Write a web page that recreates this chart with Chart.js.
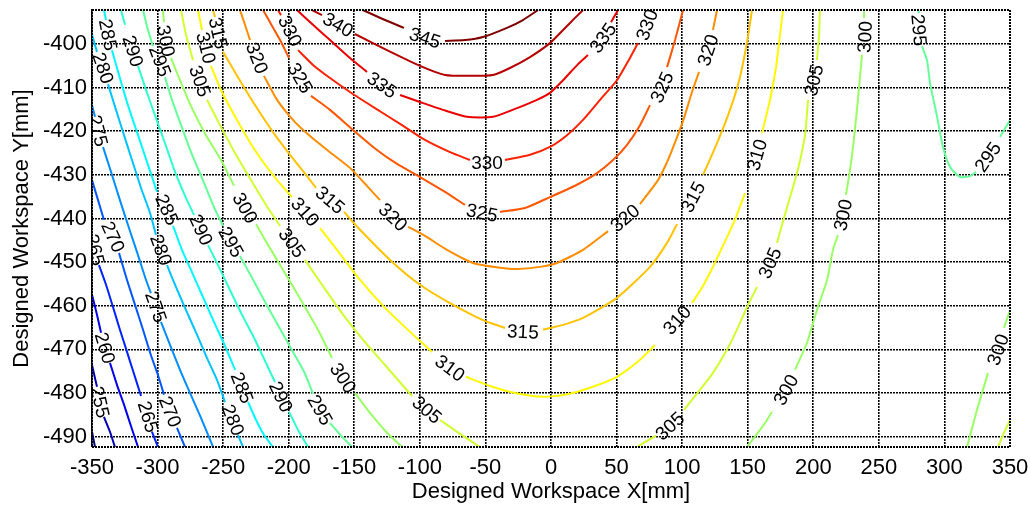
<!DOCTYPE html>
<html>
<head>
<meta charset="utf-8">
<title>Designed Workspace contour</title>
<script src="https://cdn.jsdelivr.net/npm/chart.js@4.4.0/dist/chart.umd.min.js"></script>
<style>
  html, body { margin: 0; padding: 0; background: #fff; }
  #wrap { width: 1030px; height: 509px; }
</style>
</head>
<body>
<div id="wrap"><canvas id="myChart" width="1030" height="509"></canvas></div>
<script>
var xTicks = [-350, -300, -250, -200, -150, -100, -50, 0, 50, 100, 150, 200, 250, 300, 350];
var yTicks = [-490, -480, -470, -460, -450, -440, -430, -420, -410, -400];
var xRange = [-350, 350];
var yRange = [-492.4, -392.2];

// contour lines [x, y] in mm, null = gap where the level label sits
var c250 = [[-350, -488.9], [-347.7, -492.4]];
var c255 = [[-350, -473.6], [-346.2, -478.6], null, [-340.9, -485.5], [-336.3, -488.9], [-332.5, -492.4]];
var c260 = [[-350, -457.5], [-346.2, -462.1], [-343.1, -466.2], null, [-336.3, -473.1], [-330.9, -478.2], [-325.6, -482.7], [-320.3, -487.6], [-314.9, -492.4]];
var c265 = [[-350, -444.2], null, [-344.7, -450.7], [-339.3, -455.2], [-334.0, -460.3], [-328.7, -465.5], [-323.3, -470.6], [-318.0, -475.6], [-312.6, -480.7], null, [-304.3, -488.9], [-299.7, -492.4]];
var c270 = [[-350, -431.2], [-345.4, -435.8], [-340.9, -440.3], null, [-329.4, -447.9], [-323.3, -454.1], [-317.2, -459.8], [-311.1, -465.5], [-305.1, -471.3], [-299.7, -475.9], [-295.1, -480.4], null, [-285.2, -488.0], [-279.1, -492.4]];
var c275 = [[-350, -414.0], [-347.7, -416.7], null, [-341.6, -423.6], [-335.5, -429.3], [-328.7, -435.8], [-321.8, -442.2], [-314.9, -448.4], [-308.8, -454.1], [-305.1, -457.1], null, [-297.4, -463.7], [-290.5, -469.0], [-282.9, -474.7], [-275.3, -480.0], [-266.9, -485.7], [-257.7, -492.4]];
var c280 = [[-350, -397.9], [-346.2, -401.8], null, [-337.8, -409.2], [-331.7, -415.1], [-325.6, -420.9], [-319.5, -426.6], [-312.6, -433.0], [-305.8, -438.7], [-301.2, -443.8], null, [-292.8, -450.7], [-286.0, -455.7], [-278.3, -461.0], [-269.9, -466.7], [-262.3, -472.0], [-254.7, -477.0], [-248.6, -482.1], null, [-238.7, -489.6], [-234.9, -492.4]];
var c285 = [[-340.9, -392.2], [-339.3, -394.5], null, [-334.8, -401.4], [-329.4, -407.1], [-322.6, -414.0], [-314.9, -420.9], [-307.3, -427.7], [-300.4, -433.9], null, [-288.2, -441.7], [-281.4, -447.2], [-273.8, -452.3], [-265.4, -458.0], [-257.0, -463.7], [-248.6, -469.2], [-240.9, -474.7], null, [-231.0, -482.1], [-224.9, -486.2], [-218.9, -489.6], [-212.0, -492.4]];
var c290 = [[-327.9, -392.2], [-324.8, -395.6], null, [-314.9, -405.0], [-308.8, -410.5], [-302.0, -416.3], [-294.4, -422.7], [-286.7, -429.3], [-277.6, -435.8], [-272.2, -439.2], null, [-261.5, -446.1], [-253.9, -450.7], [-244.8, -456.4], [-235.6, -462.1], [-225.7, -467.8], [-216.6, -473.6], [-210.5, -477.5], null, [-199.8, -484.3], [-192.9, -488.5], [-185.3, -492.4]];
var c295 = [[-311.1, -392.2], [-307.3, -396.8], [-303.5, -400.5], null, [-294.4, -407.6], [-289.0, -412.8], [-282.1, -418.6], [-274.5, -424.8], [-265.4, -431.2], [-257.0, -437.4], [-250.1, -441.7], null, [-237.2, -448.6], [-228.0, -453.6], [-218.1, -459.1], [-207.4, -464.9], [-196.7, -470.6], [-187.6, -475.6], [-181.5, -480.2], null, [-168.5, -486.9], [-160.1, -489.8], [-151.7, -492.4]];
var c300 = [[-295.9, -392.2], [-295.1, -395.0], null, [-289.8, -403.2], [-282.9, -408.3], [-273.8, -414.7], [-263.1, -420.9], [-251.6, -426.6], [-241.7, -432.5], null, [-224.9, -441.3], [-214.3, -446.8], [-202.1, -452.9], [-189.9, -459.1], [-177.7, -465.5], [-167.0, -472.0], null, [-149.5, -480.0], [-138.0, -484.6], [-125.8, -488.9], [-113.6, -492.4]];
var c305 = [[-282.1, -392.2], [-278.3, -397.9], [-273.0, -403.7], null, [-262.3, -412.8], [-252.4, -418.6], [-240.2, -425.4], [-228.0, -431.6], [-217.3, -436.9], [-206.6, -441.7], null, [-187.6, -449.5], [-174.6, -455.2], [-159.4, -461.7], [-143.4, -467.8], [-126.6, -473.6], [-106.0, -480.7], null, [-84.6, -486.2], [-69.4, -489.4], [-54.1, -492.4]];
var c310 = [[-269.2, -392.2], [-266.1, -396.8], null, [-259.3, -405.0], [-250.9, -411.0], [-237.2, -418.6], [-223.4, -425.4], [-208.9, -431.2], [-197.5, -435.1], null, [-176.1, -442.2], [-163.2, -447.2], [-145.6, -454.1], [-126.6, -460.5], [-107.5, -466.0], [-90.7, -470.6], null, [-64.8, -476.3], [-46.5, -478.4], [-27.5, -480.0], [-6.1, -480.9], [10.7, -480.4], [29.7, -478.8], [50.3, -476.3], [67.9, -472.4], [79.3, -469.0], null, [107.5, -459.4], [115.1, -455.9], [122.0, -452.0], [129.6, -447.2], [140.3, -440.3], [147.9, -434.2], null, [160.9, -420.4], [167.0, -412.8], [171.6, -405.3], [174.6, -397.9], [176.9, -392.2]];
var c315 = [[-257.7, -392.2], [-256.2, -393.8], null, [-250.1, -401.8], [-238.7, -407.6], [-225.7, -414.0], [-212.0, -420.2], [-199.0, -425.4], [-186.8, -430.0], [-179.2, -433.0], null, [-157.8, -438.5], [-145.6, -442.6], [-122.8, -449.5], [-99.9, -455.2], [-77.0, -459.4], [-51.9, -463.3], [-35.1, -465.1], null, [-6.1, -465.5], [9.2, -464.4], [24.4, -462.8], [50.3, -458.2], [75.5, -451.1], [88.5, -445.6], [96.1, -441.3], null, [115.9, -430.0], [126.6, -422.7], [136.5, -415.1], [144.1, -407.6], [149.5, -399.5], [153.3, -392.2]];
var c320 = [[-237.2, -392.2], [-233.3, -395.6], [-229.5, -399.1], null, [-218.9, -407.3], [-208.9, -412.8], [-195.2, -417.9], [-182.2, -421.5], [-168.5, -424.8], [-153.3, -428.4], [-139.5, -432.8], [-130.4, -435.8], null, [-109.0, -441.9], [-96.1, -444.0], [-79.3, -447.2], [-59.5, -450.2], [-38.9, -451.3], [-25.9, -451.6], [-8.4, -451.1], [4.6, -450.2], [24.4, -447.2], [43.5, -442.9], null, [67.9, -436.7], [81.6, -431.2], [89.2, -426.6], [95.3, -422.0], [101.4, -417.0], [107.5, -411.0], [112.9, -406.4], null, [123.5, -396.8], [126.6, -392.2]];
var c325 = [[-219.6, -392.2], [-214.3, -395.0], [-206.6, -399.1], [-199.8, -403.2], null, [-183.0, -411.9], [-168.5, -415.1], [-151.0, -419.7], [-132.7, -424.3], [-117.4, -427.5], [-99.9, -430.5], [-80.8, -433.9], [-65.6, -436.9], null, [-38.9, -438.5], [-19.8, -437.6], [-0.8, -435.1], [18.3, -432.5], [35.1, -429.6], [47.3, -426.6], [58.0, -423.1], [67.9, -418.6], [75.5, -414.0], null, [88.5, -405.3], [94.6, -399.1], [100.7, -392.2]];
var c330 = [[-208.2, -392.2], [-205.9, -393.4], null, [-192.9, -401.4], [-181.5, -404.8], [-168.5, -407.8], [-153.3, -411.0], [-134.2, -414.7], [-115.1, -418.3], [-96.1, -422.0], [-77.0, -424.8], [-61.8, -426.6], null, [-35.1, -426.6], [-16.0, -425.4], [-0.8, -423.6], [12.2, -420.9], [24.4, -417.4], [37.4, -412.8], [50.3, -408.3], [60.2, -403.2], [66.3, -399.8], null, [75.5, -392.2]];
var c335 = [[-193.7, -392.2], [-181.5, -395.6], [-168.5, -399.1], [-153.3, -403.2], [-140.3, -406.4], null, [-115.1, -411.7], [-99.9, -413.3], [-82.4, -415.1], [-64.1, -416.7], [-44.2, -416.7], [-25.9, -414.7], [-10.7, -412.8], [-0.8, -411.2], [9.2, -408.3], [20.6, -404.6], [28.2, -402.5], null, [45.8, -395.0], [51.1, -392.2]];
var c340 = [[-182.2, -392.2], [-174.6, -393.4], null, [-149.5, -397.7], [-125.1, -401.4], [-99.9, -405.0], [-80.8, -407.1], [-61.8, -407.3], [-44.2, -407.1], [-31.3, -405.5], [-16.0, -403.0], [-0.8, -399.8], [9.2, -396.8], [18.3, -394.0], [24.4, -392.2]];
var c345 = [[-143.4, -392.2], [-126.6, -394.5], [-112.1, -396.3], null, [-80.8, -399.3], [-65.6, -399.1], [-51.9, -398.4], [-33.6, -396.3], [-21.4, -394.5], [-9.9, -392.2]];
var c305r = [[65.6, -492.4], [73.2, -491.0], [80.1, -489.8], null, [101.4, -483.9], [113.6, -479.3], [123.5, -475.4], [134.2, -470.1], [141.8, -465.5], [149.5, -460.3], [157.1, -455.7], null, [172.3, -445.6], [180.0, -437.4], [187.6, -429.6], [193.7, -420.9], [196.0, -412.8], null, [202.8, -403.7], [204.4, -397.9], [205.1, -392.2]];
var c300r = [[149.5, -492.4], [157.1, -489.4], [163.2, -486.9], [168.5, -484.3], null, [186.1, -474.7], [195.2, -468.5], [202.8, -461.0], [210.5, -454.1], [215.0, -447.2], [218.8, -443.8], null, [224.9, -434.6], [228.0, -428.9], [230.3, -423.6], [233.3, -415.1], [235.6, -407.6], [237.2, -402.5], null, [238.7, -394.0], [238.7, -392.2]];
var c295r = [[279.9, -392.2], [280.6, -392.9], null, [282.9, -400.5], [286.7, -403.7], [289.0, -408.9], [294.4, -416.7], [298.9, -423.6], [304.3, -428.2], [311.9, -430.5], [319.5, -430.3], [324.1, -429.3], null, [342.4, -421.3], [350, -417.4]];
var c300rr = [[317.2, -492.4], [321.8, -487.3], [324.8, -483.9], [329.4, -479.3], [333.2, -475.4], null, [345.4, -465.1], [350, -461.0]];
var c305rr = [[340.9, -492.4], [344.7, -489.6], [350, -486.2]];

var pieces = [
  [250, c250], [255, c255], [260, c260], [265, c265], [270, c270], [275, c275],
  [280, c280], [285, c285], [290, c290], [295, c295], [300, c300], [305, c305],
  [310, c310], [315, c315], [320, c320], [325, c325], [330, c330], [335, c335],
  [340, c340], [345, c345], [305, c305r], [300, c300r], [295, c295r], [300, c300rr], [305, c305rr]
];

// level labels [level, x, y]
var levelLabels = [
  [255, -343.9, -482.1], [260, -340.1, -469.7],
  [265, -347.7, -447.2], [265, -307.3, -485.5],
  [270, -334.0, -444.2], [270, -290.5, -484.3],
  [275, -345.4, -419.9], [275, -301.2, -460.3],
  [280, -341.6, -405.5], [280, -297.4, -447.2], [280, -242.5, -486.2],
  [285, -337.8, -397.9], [285, -292.8, -438.0], [285, -235.6, -478.8],
  [290, -318.8, -401.6], [290, -266.9, -442.6], [290, -205.9, -480.9],
  [295, -298.2, -403.9], [295, -244.0, -445.4], [295, -176.1, -483.9], [295, 280.6, -396.8], [295, 333.2, -425.9],
  [300, -293.6, -399.3], [300, -233.3, -437.6], [300, -158.6, -476.6], [300, 179.2, -479.3], [300, 222.7, -439.2], [300, 239.4, -398.4], [300, 340.9, -470.1],
  [305, -267.7, -408.5], [305, -197.5, -445.6], [305, -94.6, -483.9], [305, 90.7, -487.6], [305, 167.0, -450.2], [305, 200.5, -408.3],
  [310, -263.1, -400.9], [310, -187.6, -438.5], [310, -77.0, -474.3], [310, 96.1, -463.3], [310, 157.1, -425.4],
  [315, -253.9, -397.5], [315, -168.5, -435.8], [315, -21.4, -466.0], [315, 108.3, -435.1],
  [320, -224.2, -403.2], [320, -120.5, -439.7], [320, 56.4, -439.9], [320, 119.7, -401.4],
  [325, -191.4, -407.8], [325, -52.6, -438.7], [325, 84.6, -409.9],
  [330, -199.0, -397.0], [330, -48.8, -427.3], [330, 73.2, -395.6],
  [335, -128.9, -409.4], [335, 39.7, -398.6],
  [340, -162.4, -395.6],
  [345, -96.1, -398.6]
];

var FONT = '"Liberation Sans", Arial, sans-serif';

// jet colour map over 250..345
function jet(level) {
  var t = (level - 250) / 95;
  function f(c) { return Math.round(255 * Math.max(0, Math.min(1, 1.5 - Math.abs(4 * t - c)))); }
  return 'rgb(' + f(3) + ',' + f(2) + ',' + f(1) + ')';
}

var datasets = pieces.map(function (p) {
  return {
    label: String(p[0]),
    level: p[0],
    data: p[1].map(function (pt) { return pt ? { x: pt[0], y: pt[1] } : { x: NaN, y: null }; }),
    borderColor: jet(p[0]),
    backgroundColor: jet(p[0]),
    borderWidth: 2,
    pointRadius: 0,
    tension: 0.2,
    spanGaps: false
  };
});

var labelPlugin = {
  id: 'labelPlugin',
  afterDatasetsDraw: function (chart) {
    var ctx = chart.ctx, xs = chart.scales.x, ys = chart.scales.y, a = chart.chartArea;
    ctx.save();
    ctx.beginPath();
    ctx.rect(a.left, a.top, a.right - a.left, a.bottom - a.top);
    ctx.clip();
    ctx.font = '19px ' + FONT;
    ctx.fillStyle = '#000';
    ctx.textAlign = 'center';
    ctx.textBaseline = 'middle';
    levelLabels.forEach(function (lb) {
      var px = xs.getPixelForValue(lb[1]), py = ys.getPixelForValue(lb[2]);
      var best = null, bestD = Infinity;
      chart.data.datasets.forEach(function (ds, di) {
        if (ds.level !== lb[0]) return;
        var pts = chart.getDatasetMeta(di).data;
        for (var i = 1; i < pts.length - 1; i++) {
          if (!pts[i].skip) continue;
          var p0 = pts[i - 1], p1 = pts[i + 1];
          var d = Math.hypot((p0.x + p1.x) / 2 - px, (p0.y + p1.y) / 2 - py);
          if (d < bestD) { bestD = d; best = [p0, p1]; }
        }
      });
      var ang = best ? Math.atan2(best[1].y - best[0].y, best[1].x - best[0].x) : 0;
      if (ang > Math.PI / 2) ang -= Math.PI;
      if (ang < -Math.PI / 2) ang += Math.PI;
      ctx.save();
      ctx.translate(px, py);
      ctx.rotate(ang);
      ctx.fillText(String(lb[0]), 0, 1);
      ctx.restore();
    });
    ctx.restore();
  }
};

var framePlugin = {
  id: 'framePlugin',
  afterDraw: function (chart) {
    var a = chart.chartArea, ctx = chart.ctx;
    ctx.save();
    ctx.strokeStyle = '#000';
    ctx.lineWidth = 2;
    ctx.setLineDash([2, 1]);
    ctx.strokeRect(a.left, a.top, a.right - a.left, a.bottom - a.top);
    ctx.restore();
  }
};

var ctx = document.getElementById('myChart').getContext('2d');
var myChart = new Chart(ctx, {
  type: 'line',
  data: { datasets: datasets },
  plugins: [labelPlugin, framePlugin],
  options: {
    responsive: false,
    animation: false,
    layout: { padding: { top: 10, right: 20, left: 0, bottom: 0 } },
    plugins: { legend: { display: false }, tooltip: { enabled: false } },
    scales: {
      x: {
        type: 'linear',
        min: xRange[0],
        max: xRange[1],
        afterBuildTicks: function (s) { s.ticks = xTicks.map(function (v) { return { value: v }; }); },
        afterFit: function (s) { s.height = 62; s.paddingLeft = 0; s.paddingRight = 0; },
        grid: { color: '#000', lineWidth: 1.6, drawTicks: false },
        border: { display: false, dash: [2, 1] },
        ticks: {
          color: '#000', padding: 8, maxRotation: 0, autoSkip: false,
          font: { size: 22, family: FONT },
          callback: function (v) { return String(v); }
        },
        title: {
          display: true, text: 'Designed Workspace X[mm]', color: '#000',
          font: { size: 22, family: FONT }, padding: { top: 0, bottom: 4 }
        }
      },
      y: {
        type: 'linear',
        min: yRange[0],
        max: yRange[1],
        afterBuildTicks: function (s) { s.ticks = yTicks.map(function (v) { return { value: v }; }); },
        afterFit: function (s) { s.width = 92; s.paddingTop = 0; s.paddingBottom = 0; },
        grid: { color: '#000', lineWidth: 1.6, drawTicks: false },
        border: { display: false, dash: [2, 1] },
        ticks: {
          color: '#000', padding: 5, autoSkip: false,
          font: { size: 22, family: FONT },
          callback: function (v) { return String(v); }
        },
        title: {
          display: true, text: 'Designed Workspace Y[mm]', color: '#000',
          font: { size: 22, family: FONT }, padding: { top: 9, bottom: 0 }
        }
      }
    }
  }
});
</script>
</body>
</html>
